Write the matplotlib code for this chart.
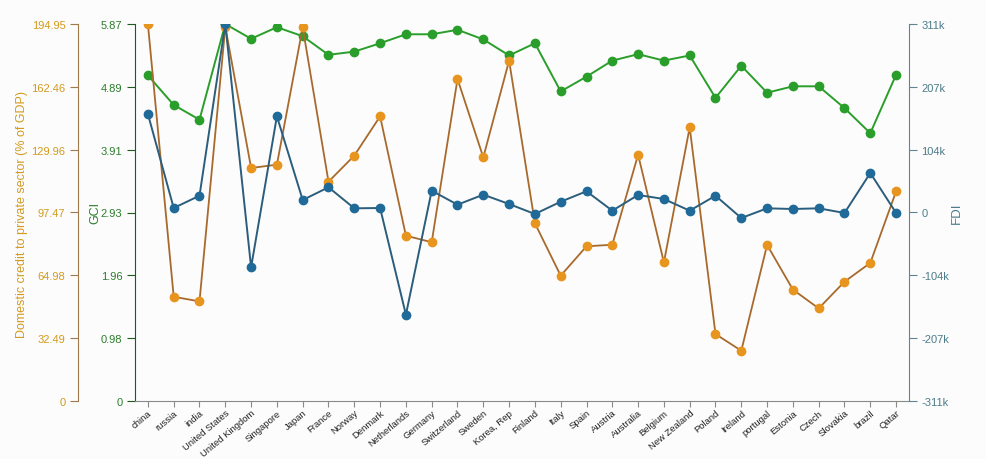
import numpy as np
import matplotlib.pyplot as plt

plt.rcParams["font.family"] = ["Liberation Sans", "DejaVu Sans"]

# Data
countries = ["china", "russia", "india", "United States", "United Kingdom", "Singapore",
             "Japan", "France", "Norway", "Denmark", "Netherlands", "Germany", "Switzerland",
             "Sweden", "Korea, Rep", "Finland", "Italy", "Spain", "Austria", "Australia",
             "Belgium", "New Zealand", "Poland", "Ireland", "portugal", "Estonia", "Czech",
             "Slovakia", "brazil", "Qatar"]
credit = [194.95, 53.9, 51.5, 193.5, 120.5, 122.2, 193.2, 113.4, 126.9, 147.2, 85.5, 82.1,
          166.5, 126.0, 176.0, 91.9, 64.8, 80.0, 80.8, 127.4, 71.7, 141.5, 34.6, 26.0,
          80.7, 57.6, 47.9, 61.7, 71.4, 108.4]
gci = [5.07, 4.61, 4.38, 5.87, 5.64, 5.82, 5.68, 5.39, 5.44, 5.57, 5.71, 5.71, 5.78, 5.63,
       5.38, 5.57, 4.82, 5.05, 5.30, 5.40, 5.30, 5.38, 4.72, 5.22, 4.80, 4.90, 4.90, 4.56,
       4.17, 5.08]
fdi = [162.5, 7.4, 27.7, 311.0, -90.4, 158.7, 20.6, 41.6, 6.9, 7.4, -168.6, 36.0, 12.9,
       29.4, 14.0, -2.5, 17.8, 35.0, 3.0, 28.9, 22.3, 3.0, 27.7, -9.1, 6.9, 5.8, 6.9, -0.8,
       65.2, -0.8]  # thousands

credit_ticks = ["0", "32.49", "64.98", "97.47", "129.96", "162.46", "194.95"]
gci_ticks = ["0", "0.98", "1.96", "2.93", "3.91", "4.89", "5.87"]
fdi_ticks = ["-311k", "-207k", "-104k", "0", "104k", "207k", "311k"]

orange, orange_line, orange_txt = "#e8951f", "#a86a2c", "#d39a1e"
green, green_txt = "#2a9e2a", "#2c7d2c"
blue, blue_line, blue_txt = "#1f6a98", "#2b5d7c", "#4d7c8a"

x = np.arange(len(countries))

fig = plt.figure(figsize=(9.87, 4.6), dpi=100, facecolor="#fcfcfc")
ax = fig.add_axes([135 / 987, 1 - 402 / 460, 774 / 987, 377 / 460])
ax.set_facecolor("#fcfcfc")
ax_dc = ax.twinx()
ax_fdi = ax.twinx()

# GCI axis (inner left)
ax.plot(x, gci, color=green, lw=1.4, marker="o", ms=6, mfc=green, mec=green, zorder=3)
ax.set_ylim(0, 5.87)
ax.set_yticks(np.linspace(0, 5.87, 7))
ax.set_yticklabels(gci_ticks, color=green_txt, fontsize=8)
ax.spines["left"].set_color("#1e5a1e")
ax.spines["top"].set_visible(False)
ax.spines["right"].set_visible(False)
ax.spines["bottom"].set_color("#8a8a8a")
ax.tick_params(axis="y", colors="#1e5a1e", labelcolor=green_txt, length=6, pad=3)
ax.tick_params(axis="x", colors="#8a8a8a", labelcolor="#222222", length=4, pad=1)

# Credit axis (outer left)
ax_dc.plot(x, credit, color=orange_line, lw=1.3, marker="o", ms=6, mfc=orange, mec=orange, zorder=2)
ax_dc.set_ylim(0, 194.95)
ax_dc.yaxis.set_ticks_position("left")
ax_dc.yaxis.set_label_position("left")
ax_dc.spines["left"].set_position(("axes", -57 / 774))
ax_dc.spines["left"].set_visible(True)
ax_dc.spines["left"].set_color("#a07a4a")
for s in ["top", "right", "bottom"]:
    ax_dc.spines[s].set_visible(False)
ax_dc.set_yticks(np.linspace(0, 194.95, 7))
ax_dc.set_yticklabels(credit_ticks, fontsize=8)
ax_dc.tick_params(axis="y", colors="#a07a4a", labelcolor=orange_txt, length=6, pad=3)

# FDI axis (right)
ax_fdi.plot(x, fdi, color=blue_line, lw=1.4, marker="o", ms=6, mfc=blue, mec=blue, zorder=2)
ax_fdi.set_ylim(-311, 311)
ax_fdi.set_yticks(np.linspace(-311, 311, 7))
ax_fdi.set_yticklabels(fdi_ticks, fontsize=8)
for s in ["top", "left", "bottom"]:
    ax_fdi.spines[s].set_visible(False)
ax_fdi.spines["right"].set_color("#5f8390")
ax_fdi.tick_params(axis="y", colors="#5f8390", labelcolor=blue_txt, length=6, pad=3)

ax.set_xlim(-0.5, len(countries) - 0.5)
ax.set_xticks(x)
ax.set_xticklabels(countries, rotation=40, ha="right", rotation_mode="anchor", fontsize=6.8)

fig.text(22 / 987, 1 - 215 / 460, "Domestic credit to private sector (% of GDP)",
         rotation=90, ha="center", va="center", color=orange_txt, fontsize=9)
fig.text(95 / 987, 1 - 213 / 460, "GCI", rotation=90, ha="center", va="center",
         color=green_txt, fontsize=9)
fig.text(957 / 987, 1 - 213 / 460, "FDI", rotation=90, ha="center", va="center",
         color=blue_txt, fontsize=9.5)

fig.savefig("out.png", dpi=100, facecolor=fig.get_facecolor())
